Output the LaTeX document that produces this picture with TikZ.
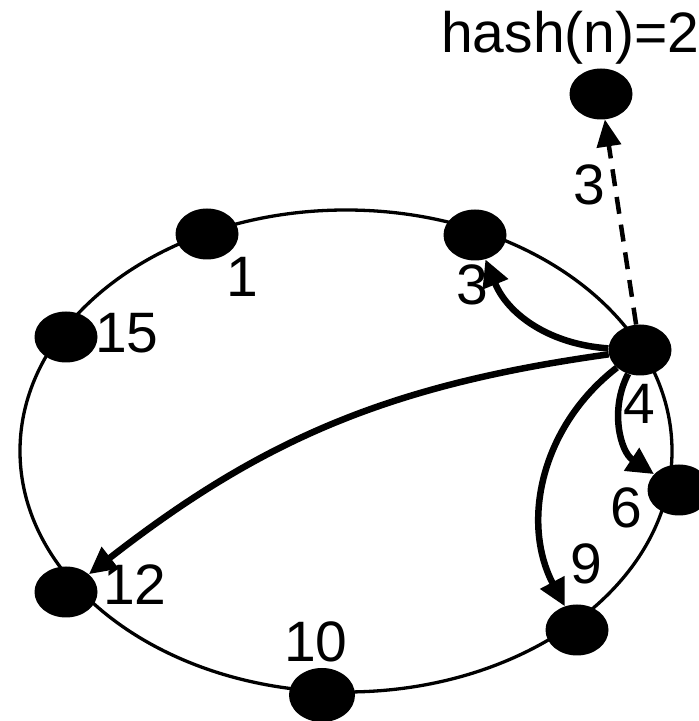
\documentclass[tikz,border=0pt]{standalone}
\usepackage{fontspec}
\setmainfont{Liberation Sans}
\usetikzlibrary{arrows.meta,shapes.geometric}
\begin{document}
\begin{tikzpicture}[x=1pt,y=1pt,
  peer/.style={ellipse,fill=black,draw=none,minimum width=63pt,minimum height=51pt,inner sep=0pt},
  lbl/.style={inner sep=0pt,font=\fontsize{57}{60}\selectfont},
  hop/.style={line width=6.5pt,-{Triangle[length=27pt,width=26pt]}},
  probe/.style={line width=4.5pt,dash pattern=on 17pt off 11pt,-{Triangle[length=27pt,width=24pt]}}]
\useasboundingbox (0,0) rectangle (699,721);
\draw[line width=3.3pt] (346,270) ellipse [x radius=326, y radius=241];
\node[peer] (t) at (601,627) {};
\node[peer] (n1) at (207,487) {};
\node[peer] (n3) at (475,486) {};
\node[peer] (n15) at (66,384) {};
\node[peer] (n4) at (640,371) {};
\node[peer] (n6) at (679,231) {};
\node[peer] (n12) at (66,129) {};
\node[peer] (n9) at (577,91) {};
\node[peer,minimum width=66pt,minimum height=54pt] (n10) at (322,26) {};
\node[lbl,anchor=base west] (h) at (441,668) {hash(n)=2};
\node[lbl] (l1) at (242,444) {1};
\node[lbl] (l15) at (127,388) {15};
\node[lbl] (l3) at (472,436) {3};
\node[lbl] (ld) at (589,536) {3};
\node[lbl] (l4) at (639,317) {4};
\node[lbl] (l6) at (626,213) {6};
\node[lbl] (l9) at (586,157) {9};
\node[lbl] (l12) at (135,136) {12};
\node[lbl] (l10) at (316,79) {10};
\draw[hop] (n4) to[bend left=32] (n3);
\draw[hop] (n4) to[bend right=15] (n12);
\draw[hop] (n4) to[bend right=40] (n9);
\draw[hop] (n4) to[bend right=42] (n6);
\draw[probe] (n4) -- (t);
\end{tikzpicture}
\end{document}
